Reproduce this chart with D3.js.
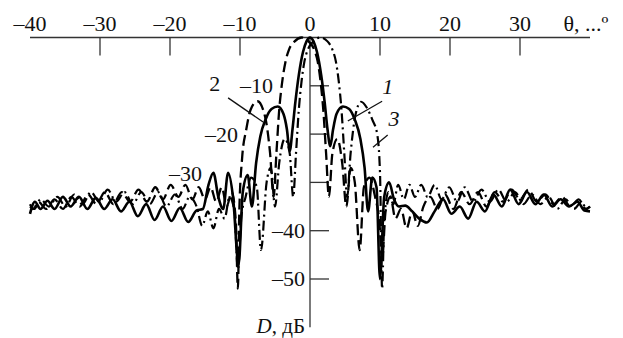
<!DOCTYPE html>
<html>
<head>
<meta charset="utf-8">
<script src="https://cdn.jsdelivr.net/npm/d3@7"></script>
<style>
  body { margin: 0; background: #fff; }
  text { font-family: "Liberation Serif", "Times New Roman", serif; fill: #111; }
</style>
</head>
<body>
<div id="chart"></div>
<script>
// angle ticks (deg) and level ticks (dB)
var xTicks = [-30, -20, -10, 10, 20, 30];
var xLabels = [-40, -30, -20, -10, 0, 10, 20, 30];
var yTicks = [-10, -20, -30, -40, -50];

// curve 1 - solid, [theta, dB]
var curve1 = [[-40,-36.5],[-39.3,-34],[-38.5,-35.5],[-37.5,-33.8],[-36.5,-35.5],[-35.3,-33],[-34.2,-35],[-33,-33],[-31.8,-35.5],[-30.6,-33.2],[-29.4,-35.5],[-28.2,-33.5],[-27,-36],[-25.8,-34],[-24.6,-37],[-23.4,-34.5],[-22.2,-37.8],[-21,-35],[-19.8,-38],[-18.6,-35.3],[-17.4,-38.2],[-16.2,-35.8],[-15.3,-35.5],[-14.5,-30.5],[-13.8,-28],[-13.1,-33],[-12.4,-35.5],[-11.7,-28],[-11,-33],[-10.2,-47],[-9.6,-32],[-8.9,-28.5],[-8.3,-35],[-7.7,-26],[-7.1,-20.5],[-6.3,-16.8],[-5.5,-14.8],[-4.6,-14.3],[-3.8,-15.8],[-3.3,-19],[-2.9,-23.5],[-2.5,-19],[-2.1,-13.5],[-1.6,-7.8],[-1,-3],[-0.5,-0.8],[0,0],[0.5,-0.8],[1,-3],[1.6,-7.8],[2.1,-13.5],[2.5,-19],[2.9,-22.5],[3.3,-19],[3.8,-15.8],[4.7,-14.3],[5.6,-14.8],[6.4,-17],[7.2,-21],[7.8,-27],[8.3,-36],[8.9,-29],[9.5,-31],[10,-50],[10.6,-33],[11.3,-30],[12,-33.5],[12.7,-35],[13.6,-34.8],[14.6,-36],[15.6,-37.5],[16.7,-38.3],[17.8,-36],[19,-33.5],[20.2,-36.5],[21.4,-35],[22.6,-37.5],[23.8,-34],[25,-36],[26.2,-32.5],[27.4,-35],[28.6,-31.5],[29.8,-34.5],[31,-32],[32.2,-34.5],[33.4,-32.5],[34.6,-35],[35.8,-33.5],[37,-35],[38.2,-34],[39.2,-35.8],[40,-36]];

// curve 2 - dashed
var curve2 = [[-40,-34.5],[-39.5,-35.5],[-38.8,-34],[-37.7,-35.5],[-36.5,-33.5],[-35.3,-35.5],[-34.1,-33],[-32.9,-35],[-31.7,-32.5],[-30.5,-34.5],[-29.3,-32],[-28.1,-34.5],[-26.9,-32],[-25.7,-34],[-24.5,-31.5],[-23.3,-34],[-22.1,-31],[-21,-33.5],[-19.9,-30.5],[-18.8,-33],[-17.8,-30.5],[-16.8,-33.5],[-15.9,-31],[-15,-33.5],[-14.2,-31],[-13.4,-34],[-12.6,-31],[-11.9,-35],[-11.2,-32],[-10.6,-38],[-10.3,-52],[-10.1,-36],[-9.7,-25],[-9.1,-19],[-8.5,-15],[-7.5,-13.2],[-6.4,-16.5],[-5.7,-24],[-5.2,-33],[-4.8,-24],[-4.4,-15],[-4,-9.5],[-3.5,-5],[-3,-2.5],[-2.2,-0.8],[-1.2,0],[-0.2,-0.8],[0.6,-2.5],[1.1,-5],[1.5,-9],[1.9,-15],[2.3,-24],[2.7,-33],[3.2,-24],[3.9,-21],[4.6,-26],[5.2,-35],[5.8,-27],[6.4,-30],[7.1,-44],[7.7,-31],[8.5,-29],[9.3,-33],[9.9,-38],[10.3,-46],[10.8,-36],[11.5,-33],[12.2,-37.5],[13,-35.5],[13.8,-39.5],[14.6,-36],[15.4,-39],[16.2,-35],[17.2,-33],[18.2,-35.5],[19.3,-32.5],[20.5,-35.5],[21.6,-32],[22.8,-34.5],[24,-32],[25.2,-35],[26.4,-32],[27.6,-34],[28.8,-31.5],[30,-33.5],[31.2,-31.5],[32.4,-34],[33.6,-32.5],[34.8,-34.5],[36,-33],[37.2,-35],[38.4,-33.5],[39.4,-35.5],[40,-35]];

// curve 3 - dash-dot
var curve3 = [[-40,-35],[-39.4,-35.5],[-38.5,-33.5],[-37.3,-35],[-36.1,-33],[-34.9,-35],[-33.7,-32.5],[-32.5,-34.5],[-31.3,-32],[-30.1,-34],[-28.9,-31.5],[-27.7,-34],[-26.5,-32],[-25.3,-34.5],[-24.1,-32],[-22.9,-34.5],[-21.7,-32],[-20.5,-35],[-19.3,-32.5],[-18.2,-35.5],[-17.2,-33],[-16.2,-35],[-15.4,-39],[-14.6,-36],[-13.8,-39.5],[-13,-35.5],[-12.2,-37.5],[-11.5,-33],[-10.8,-36],[-10.3,-48],[-9.8,-37],[-9.2,-33],[-8.4,-29],[-7.6,-31],[-7,-44],[-6.2,-30],[-5.6,-27],[-5,-35],[-4.4,-26],[-3.6,-21],[-2.9,-24],[-2.4,-33],[-2,-24],[-1.6,-15],[-1.2,-9],[-0.8,-5],[-0.3,-2.5],[0.5,-0.8],[1.5,0],[2.5,-0.8],[3.2,-2.5],[3.7,-5],[4.1,-9],[4.5,-15],[4.9,-24],[5.3,-33],[5.8,-24],[6.5,-16],[7.3,-13.3],[8.1,-14.5],[8.9,-17],[9.6,-20],[10,-28],[10.3,-52],[10.6,-38],[11.2,-32],[11.9,-34.5],[12.6,-30.5],[13.4,-33.5],[14.2,-30.5],[15,-33],[15.9,-30.5],[16.8,-33],[17.8,-30.5],[18.8,-33.5],[19.9,-31],[21,-34],[22.1,-31],[23.3,-34],[24.5,-31.5],[25.7,-34],[26.9,-31.5],[28.1,-34],[29.3,-32],[30.5,-34.5],[31.7,-32.5],[32.9,-34.5],[34.1,-33],[35.3,-35.5],[36.5,-33.5],[37.7,-35.5],[38.8,-34],[39.5,-35.5],[40,-35]];

// curve number labels with leader lines: [label, text theta, text dB, line from, line to]
var curveNotes = [
  { name: '2', tx: -13.6, ty: -11.1, from: [-11.7, -12.5], to: [-6.7, -17.5] },
  { name: '1', tx: 11.1, ty: -11.8, from: [10.3, -13.2], to: [5.4, -17.3] },
  { name: '3', tx: 12.0, ty: -18.4, from: [11.1, -20.2], to: [9.0, -22.7] }
];

var width = 623;
var height = 338;

var svg = d3.select('#chart').append('svg')
  .attr('width', width)
  .attr('height', height);

var x = d3.scaleLinear().domain([-40, 40]).range([30, 590]);
var y = d3.scaleLinear().domain([0, -60]).range([37.5, 327.3]);

/* axes */
var axisColor = '#333';
svg.append('line')
  .attr('x1', x(-40)).attr('x2', x(40))
  .attr('y1', y(0)).attr('y2', y(0))
  .attr('stroke', axisColor).attr('stroke-width', 1.3);

svg.append('g').selectAll('line')
  .data(xTicks).enter().append('line')
  .attr('x1', d => x(d)).attr('x2', d => x(d))
  .attr('y1', y(0)).attr('y2', y(0) + 18)
  .attr('stroke', axisColor).attr('stroke-width', 1.3);

svg.append('g').selectAll('text')
  .data(xLabels).enter().append('text')
  .attr('x', d => x(d))
  .attr('y', y(0) - 7)
  .attr('text-anchor', 'middle')
  .attr('font-size', 22)
  .text(d => d < 0 ? '\u2013' + Math.abs(d) : d);

svg.append('text')
  .attr('x', x(40) - 4)
  .attr('y', y(0) - 7)
  .attr('text-anchor', 'middle')
  .attr('font-size', 22)
  .text('\u03B8, ...\u00BA');

svg.append('line')
  .attr('x1', x(0)).attr('x2', x(0))
  .attr('y1', y(0)).attr('y2', y(-60))
  .attr('stroke', axisColor).attr('stroke-width', 1.3);

svg.append('g').selectAll('line')
  .data(yTicks).enter().append('line')
  .attr('x1', x(0)).attr('x2', x(0) + 19)
  .attr('y1', d => y(d)).attr('y2', d => y(d))
  .attr('stroke', axisColor).attr('stroke-width', 1.3);

// the upper level labels sit to the left of the curves, the lower ones at the axis
var yLabelPos = { '-10': [273, 0], '-20': [238, 0], '-30': [202, -9], '-40': [305, 0], '-50': [305, 0] };
svg.append('g').selectAll('text')
  .data(yTicks).enter().append('text')
  .attr('x', d => yLabelPos[d][0])
  .attr('y', d => y(d) + yLabelPos[d][1])
  .attr('dy', '0.34em')
  .attr('text-anchor', 'end')
  .attr('font-size', 22)
  .text(d => '\u2013' + Math.abs(d));

var dLabel = svg.append('text')
  .attr('x', 305)
  .attr('y', 333)
  .attr('text-anchor', 'end')
  .attr('font-size', 21);
dLabel.append('tspan').attr('font-style', 'italic').text('D');
dLabel.append('tspan').text(', дБ');

/* curves */
var line = d3.line()
  .x(d => x(d[0]))
  .y(d => y(d[1]))
  .curve(d3.curveMonotoneX);

var series = [
  { data: curve1, dash: null, w: 2.6 },
  { data: curve2, dash: '11,5', w: 2.3 },
  { data: curve3, dash: '10,4,2,4', w: 2.2 }
];

svg.append('g').selectAll('path')
  .data(series).enter().append('path')
  .attr('d', d => line(d.data))
  .attr('fill', 'none')
  .attr('stroke', '#000')
  .attr('stroke-width', d => d.w)
  .attr('stroke-linejoin', 'round')
  .attr('stroke-dasharray', d => d.dash);

/* curve numbers */
var notes = svg.append('g');
notes.selectAll('line')
  .data(curveNotes).enter().append('line')
  .attr('x1', d => x(d.from[0])).attr('y1', d => y(d.from[1]))
  .attr('x2', d => x(d.to[0])).attr('y2', d => y(d.to[1]))
  .attr('stroke', '#111').attr('stroke-width', 1.3);
notes.selectAll('text')
  .data(curveNotes).enter().append('text')
  .attr('x', d => x(d.tx))
  .attr('y', d => y(d.ty))
  .attr('text-anchor', 'middle')
  .attr('font-size', 22)
  .attr('font-style', d => d.name === '2' ? 'normal' : 'italic')
  .text(d => d.name);
</script>
</body>
</html>
